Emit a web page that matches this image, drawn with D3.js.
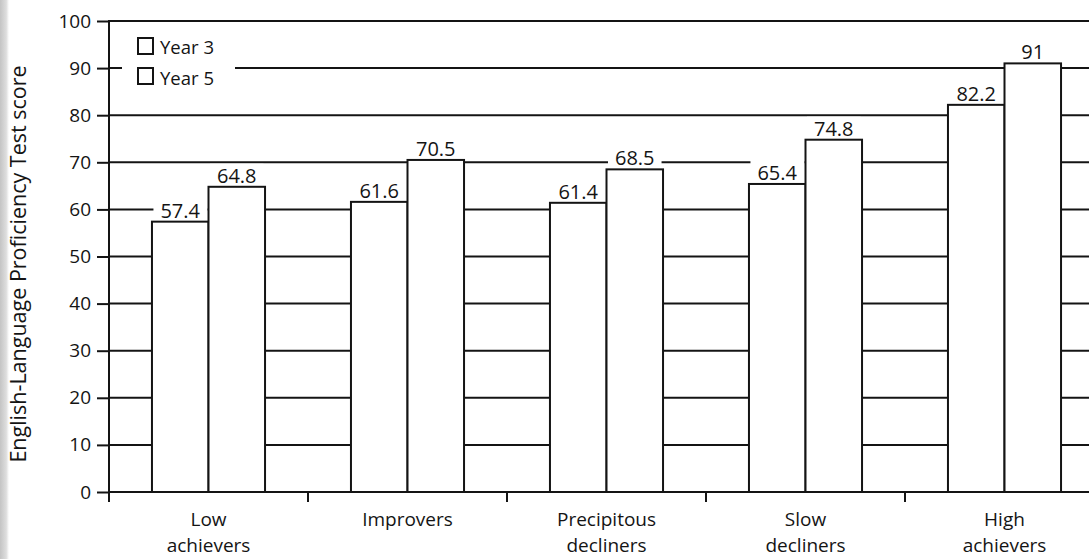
<!DOCTYPE html>
<html>
<head>
<meta charset="utf-8">
<script src="https://cdn.jsdelivr.net/npm/d3@7"></script>
<style>
  html, body { margin: 0; padding: 0; background: #fff; }
  svg { display: block; }
  text { font-family: "Open Sans", "Noto Sans", sans-serif; fill: #141414; }
</style>
</head>
<body>
<svg id="chart" width="1089" height="559"></svg>
<script>
// Mean English-Language Proficiency Test scores by trajectory group
const categories = ["Low achievers", "Improvers", "Precipitous decliners", "Slow decliners", "High achievers"];
const categoryLines = [["Low", "achievers"], ["Improvers"], ["Precipitous", "decliners"], ["Slow", "decliners"], ["High", "achievers"]];
const seriesNames = ["Year 3", "Year 5"];
const year3 = [57.4, 61.6, 61.4, 65.4, 82.2];
const year5 = [64.8, 70.5, 68.5, 74.8, 91];
const yTicks = [0, 10, 20, 30, 40, 50, 60, 70, 80, 90, 100];
const yTitle = "English-Language Proficiency Test score";

const ink = "#141414";
const svg = d3.select("#chart");

// scanner edge on the left side of the page
const defs = svg.append("defs");
const grad = defs.append("linearGradient").attr("id", "edge").attr("x1", 0).attr("x2", 1);
grad.append("stop").attr("offset", 0).attr("stop-color", "#c4c4c4");
grad.append("stop").attr("offset", 0.7).attr("stop-color", "#dedede");
grad.append("stop").attr("offset", 1).attr("stop-color", "#ffffff");
svg.append("rect").attr("x", 0).attr("y", 0).attr("width", 9).attr("height", 559).attr("fill", "url(#edge)");

const plotLeft = 109, plotRight = 1104, plotTop = 21, plotBottom = 492;

const y = d3.scaleLinear().domain([0, 100]).range([plotBottom, plotTop]);
const x0 = d3.scaleBand().domain(categories).range([plotLeft, plotRight]).paddingInner(0).paddingOuter(0);
const x1 = d3.scaleBand().domain(seriesNames).range([0, x0.bandwidth()]).paddingInner(0).paddingOuter(0.76);

const rows = categories.map((c, i) => ({ cat: c, lines: categoryLines[i], vals: [year3[i], year5[i]] }));

// horizontal rules across the plot (bars are drawn over them)
svg.append("g").selectAll("line").data(yTicks).join("line")
  .attr("x1", plotLeft).attr("x2", plotRight)
  .attr("y1", d => y(d)).attr("y2", d => y(d))
  .attr("stroke", ink).attr("stroke-width", 2);

// white patches that keep the rules clear of the value labels
const maskLayer = svg.append("g");

// bars
const groups = svg.append("g").selectAll("g").data(rows).join("g")
  .attr("transform", d => `translate(${x0(d.cat)},0)`);
groups.selectAll("rect").data(d => d.vals.map((v, k) => ({ name: seriesNames[k], v })))
  .join("rect")
  .attr("x", d => x1(d.name))
  .attr("width", x1.bandwidth())
  .attr("y", d => y(d.v))
  .attr("height", d => y(0) - y(d.v))
  .attr("fill", "#fff").attr("stroke", ink).attr("stroke-width", 2);

// value labels
const labels = groups.selectAll("text.val").data(d => d.vals.map((v, k) => ({ name: seriesNames[k], v })))
  .join("text").attr("class", "val")
  .attr("x", d => x1(d.name) + x1.bandwidth() / 2)
  .attr("y", d => y(d.v) - 4)
  .attr("text-anchor", "middle")
  .attr("font-size", 20)
  .text(d => String(d.v));

labels.each(function () {
  const b = this.getBBox();
  const t = d3.select(this.parentNode).attr("transform");
  maskLayer.append("rect")
    .attr("transform", t)
    .attr("x", b.x - 7).attr("y", b.y + 2)
    .attr("width", b.width + 14).attr("height", b.height - 4)
    .attr("fill", "#fff");
});

// legend
const legend = svg.append("g");
legend.append("rect").attr("x", 122).attr("y", 28).attr("width", 113).attr("height", 68).attr("fill", "#fff");
legend.selectAll("rect.key").data(seriesNames).join("rect").attr("class", "key")
  .attr("x", 138).attr("y", (d, i) => 38 + i * 30)
  .attr("width", 15).attr("height", 16)
  .attr("fill", "#fff").attr("stroke", ink).attr("stroke-width", 2);
legend.selectAll("text").data(seriesNames).join("text")
  .attr("x", 160).attr("y", (d, i) => 54 + i * 31)
  .attr("font-size", 18.5)
  .text(d => d);

// y axis
const yAxis = svg.append("g").attr("transform", `translate(${plotLeft},0)`)
  .call(d3.axisLeft(y).tickValues(yTicks).tickSize(12).tickPadding(6).tickFormat(d3.format("d")));
yAxis.select(".domain").remove();
yAxis.selectAll(".tick line").attr("stroke", ink).attr("stroke-width", 2);
yAxis.selectAll(".tick text").attr("font-size", 19).attr("font-family", "Open Sans").attr("fill", ink);
svg.append("line").attr("x1", plotLeft).attr("x2", plotLeft).attr("y1", plotTop - 1).attr("y2", plotBottom + 10)
  .attr("stroke", ink).attr("stroke-width", 2);

// category boundary ticks
const bounds = categories.map(c => x0(c)).concat([x0(categories[categories.length - 1]) + x0.bandwidth()]);
svg.append("g").selectAll("line").data(bounds.slice(1)).join("line")
  .attr("x1", d => d).attr("x2", d => d)
  .attr("y1", plotBottom).attr("y2", plotBottom + 10)
  .attr("stroke", ink).attr("stroke-width", 2);

// category labels, one text element per line
const clGroups = svg.append("g").selectAll("g").data(rows).join("g")
  .attr("transform", d => `translate(${x0(d.cat) + x0.bandwidth() / 2},0)`);
clGroups.selectAll("text").data(d => d.lines).join("text")
  .attr("x", 0)
  .attr("y", (d, i) => 526 + i * 26)
  .attr("text-anchor", "middle")
  .attr("font-size", 19)
  .text(d => d);

// y title
svg.append("text")
  .attr("transform", "rotate(-90)")
  .attr("x", -264).attr("y", 26)
  .attr("text-anchor", "middle")
  .attr("font-size", 21.5)
  .text(yTitle);
</script>
</body>
</html>
